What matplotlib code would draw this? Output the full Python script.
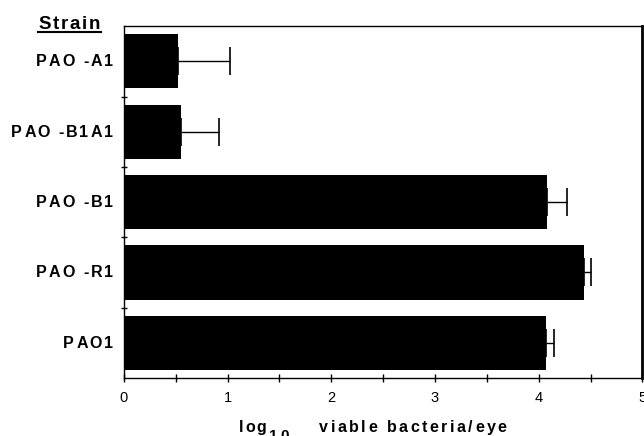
import matplotlib.pyplot as plt
from matplotlib.lines import Line2D
from matplotlib.transforms import IdentityTransform

plt.rcParams["font.family"] = ["Liberation Sans", "DejaVu Sans"]

strains = ["PAO -A1", "PAO -B1A1", "PAO -B1", "PAO -R1", "PAO1"]
log_viable = [0.52, 0.55, 4.08, 4.44, 4.07]
err_upper = [0.50, 0.37, 0.19, 0.06, 0.08]

W, H = 644, 436
fig = plt.figure(figsize=(W / 100, H / 100), dpi=100)
ax = fig.add_axes([0.1925, 0.133, 0.805, 0.807])
renderer = fig.canvas.get_renderer()


def spaced_text(x, y, s, track, ha="left", **kw):
    # matplotlib has no letter spacing, so place the characters one by one
    def width(t):
        tt = fig.text(0, 0, t, **kw)
        w = tt.get_window_extent(renderer).width
        tt.remove()
        return w

    base = width("xx")
    adv = [width("x" + c + "x") - base for c in s]
    total = sum(adv) + track * (len(s) - 1)
    x0 = x - total if ha == "right" else x
    for c, a in zip(s, adv):
        if c != " ":
            fig.text(x0, y, c, transform=IdentityTransform(), ha="left",
                     va="baseline", **kw)
        x0 += a + track


pos = list(range(len(strains)))
ax.barh(pos, log_viable, height=0.77, color="black", zorder=2)
ax.errorbar(log_viable, pos, xerr=[[0] * len(pos), err_upper], fmt="none",
            ecolor="black", elinewidth=1, capsize=10, capthick=1.2, zorder=1)

ax.set_xlim(0, 5)
ax.set_ylim(len(pos) - 0.5, -0.5)
ax.set_xticks(range(6))
ax.set_xticks([0.5, 1.5, 2.5, 3.5, 4.5], minor=True)
ax.set_yticks(pos)
ax.set_yticklabels([])
ax.set_yticks([p + 0.5 for p in pos[:-1]], minor=True)
ax.tick_params(axis="y", which="major", length=0)
ax.tick_params(axis="y", which="minor", direction="inout", length=5, width=1)
ax.tick_params(axis="x", which="both", direction="inout", length=6, width=1,
               labelsize=10.5, pad=6)

for side in ["left", "bottom", "top"]:
    ax.spines[side].set_linewidth(1)
ax.spines["right"].set_linewidth(2)

# strain names, letter-spaced, right aligned beside each bar
for p, name in zip(pos, strains):
    yc = ax.transData.transform((0, p))[1]
    spaced_text(113, yc - 5, name, 2.0, ha="right", fontsize=11.5, fontweight="bold")

spaced_text(38, H - 29, "Strain", 1.8, fontsize=13.5, fontweight="bold")
fig.add_artist(Line2D([38 / W, 101 / W], [1 - 32 / H, 1 - 32 / H], color="black", lw=1.5))

spaced_text(239, H - 432, "log", 1.5, fontsize=11.5, fontweight="bold")
spaced_text(269, H - 440, "10", 2.5, fontsize=11, fontweight="bold")
spaced_text(319, H - 432, "viable bacteria/eye", 2.5, fontsize=11.5, fontweight="bold")

fig.savefig("out.png", dpi=100)
